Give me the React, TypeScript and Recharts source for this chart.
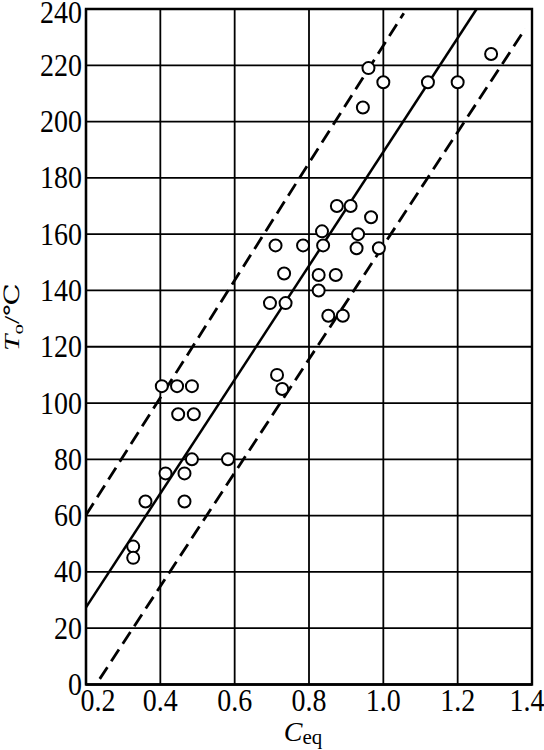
import React from "react";
import {
  ScatterChart,
  Scatter,
  XAxis,
  YAxis,
  CartesianGrid,
  ReferenceLine,
  ReferenceArea,
} from "recharts";

// Carbon equivalent (x) of each measured point
const ceqValues = [
  0.96, 1.0, 0.945, 1.12, 1.2, 1.29,
  0.875, 0.912, 0.967, 0.835, 0.932,
  0.71, 0.784, 0.838, 0.928, 0.988,
  0.733, 0.826, 0.872, 0.826,
  0.695, 0.737, 0.852, 0.891,
  0.714, 0.728,
  0.404, 0.445, 0.485, 0.448, 0.49,
  0.485, 0.582, 0.414, 0.465,
  0.36, 0.465, 0.327, 0.327,
];
// Preheat temperature T0 (°C) of each measured point
const t0Values = [
  219, 214, 205, 214, 214, 224,
  170, 170, 166, 161, 160,
  156, 156, 156, 155, 155,
  146, 145.5, 145.5, 140,
  135.5, 135.5, 131, 131,
  110, 105,
  106, 106, 106, 96, 96,
  80, 80, 75, 75,
  65, 65, 49, 45,
];

// Regression line and scatter band endpoints
const fitLineX = [0.2, 1.251];
const fitLineY = [27.4, 240];
const upperBandX = [0.2, 1.055];
const upperBandY = [60.2, 238.5];
const lowerBandX = [0.237, 1.382];
const lowerBandY = [2, 233];

const xTicks = [0.2, 0.4, 0.6, 0.8, 1.0, 1.2, 1.4];
const yTicks = [0, 20, 40, 60, 80, 100, 120, 140, 160, 180, 200, 220, 240];

const points = ceqValues.map((x, i) => ({ x, y: t0Values[i] }));

const FONT = "Liberation Serif, Times New Roman, DejaVu Serif, serif";
const txt = { fontFamily: FONT };
const STRETCH = 1.1;

const XTick = (props: any) => {
  const { x, y, payload } = props;
  const v = payload.value;
  let dx = 0;
  if (v === 0.2) dx = 12;
  if (v === 1.4) dx = -5;
  const top = y + 1;
  return (
    <g transform={`translate(0,${top}) scale(1,${STRETCH}) translate(0,${-top})`}>
      <text
        x={x + dx}
        y={y}
        dy="0.71em"
        textAnchor="middle"
        style={txt}
        fontSize={28}
        fill="#000"
      >
        {v.toFixed(1)}
      </text>
    </g>
  );
};

const YTick = (props: any) => {
  const { x, y, payload } = props;
  const shift = payload.value === 240 ? 4 : 0;
  const cy = y + shift;
  return (
    <g transform={`translate(0,${cy}) scale(1,${STRETCH}) translate(0,${-cy})`}>
      <text
        x={x}
        y={cy}
        dy="0.34em"
        textAnchor="end"
        style={txt}
        fontSize={28}
        fill="#000"
      >
        {payload.value}
      </text>
    </g>
  );
};

const Dot = (props: any) => {
  const { cx, cy } = props;
  return <circle cx={cx} cy={cy} r={6} fill="#fff" stroke="#000" strokeWidth={2} />;
};

const XLabel = (props: any) => {
  const vb = props.viewBox || {};
  const cx = vb.x + vb.width / 2 - 6;
  return (
    <text x={cx} y={741} textAnchor="middle" style={txt} fill="#000">
      <tspan fontSize={28} fontStyle="italic">C</tspan>
      <tspan fontSize={21} dy={3}>eq</tspan>
    </text>
  );
};

const YLabel = () => {
  return (
    <text
      transform="translate(19,317) rotate(-90) scale(1.4,1)"
      textAnchor="middle"
      style={txt}
      fill="#000"
    >
      <tspan fontSize={21} fontStyle="italic">T</tspan>
      <tspan fontSize={15} dy={4}>o</tspan>
      <tspan fontSize={21} dy={-4}>/℃</tspan>
    </text>
  );
};

export default function App() {
  return (
    <div
      style={{
        position: "absolute",
        left: 0,
        top: 0,
        width: 544,
        height: 750,
        background: "#fff",
        fontFamily: FONT,
      }}
    >
      <ScatterChart
        width={544}
        height={750}
        margin={{ top: 9, right: 12, left: 0, bottom: 0 }}
      >
        <CartesianGrid stroke="#000" strokeWidth={1.8} />
        <XAxis
          type="number"
          dataKey="x"
          domain={[0.2, 1.4]}
          ticks={xTicks}
          interval={0}
          height={65.5}
          tickLine={false}
          tickSize={0}
          tickMargin={4.5}
          axisLine={{ stroke: "#000", strokeWidth: 2.2 }}
          tick={<XTick />}
          allowDataOverflow
          label={<XLabel />}
        />
        <YAxis
          type="number"
          dataKey="y"
          domain={[0, 240]}
          ticks={yTicks}
          interval={0}
          width={86}
          tickLine={false}
          tickSize={0}
          tickMargin={4}
          axisLine={{ stroke: "#000", strokeWidth: 2.2 }}
          tick={<YTick />}
          allowDataOverflow
          label={<YLabel />}
        />
        <ReferenceArea
          x1={0.2}
          x2={1.4}
          y1={0}
          y2={240}
          fill="none"
          fillOpacity={0}
          stroke="#000"
          strokeWidth={2.4}
          ifOverflow="visible"
        />
        <ReferenceLine
          segment={[
            { x: fitLineX[0], y: fitLineY[0] },
            { x: fitLineX[1], y: fitLineY[1] },
          ]}
          stroke="#000"
          strokeWidth={2.5}
          ifOverflow="visible"
        />
        <ReferenceLine
          segment={[
            { x: upperBandX[0], y: upperBandY[0] },
            { x: upperBandX[1], y: upperBandY[1] },
          ]}
          stroke="#000"
          strokeWidth={2.8}
          strokeDasharray="14 7"
          ifOverflow="visible"
        />
        <ReferenceLine
          segment={[
            { x: lowerBandX[0], y: lowerBandY[0] },
            { x: lowerBandX[1], y: lowerBandY[1] },
          ]}
          stroke="#000"
          strokeWidth={2.8}
          strokeDasharray="14 7"
          ifOverflow="visible"
        />
        <Scatter data={points} shape={<Dot />} isAnimationActive={false} />
      </ScatterChart>
    </div>
  );
}
